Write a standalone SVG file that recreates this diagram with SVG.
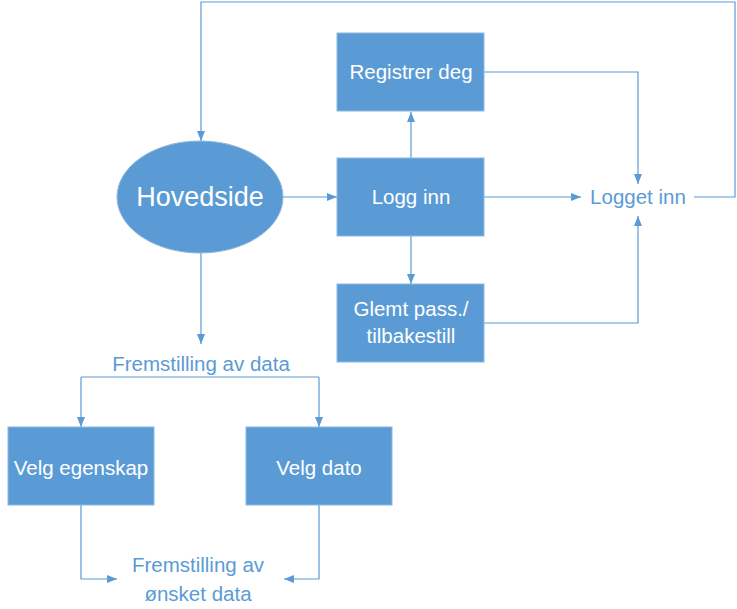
<svg xmlns="http://www.w3.org/2000/svg" width="737" height="609" viewBox="0 0 737 609">
<style>
.box{fill:#5B9BD5;stroke:#8DB8E2;stroke-width:1}
.bt{fill:#FFFFFF;font-family:"Liberation Sans",Arial,sans-serif;font-size:20.5px;text-anchor:middle}
.lbl{fill:#5B9BD5;font-family:"Liberation Sans",Arial,sans-serif;font-size:20.5px;text-anchor:middle}
.c{fill:none;stroke:#5B9BD5;stroke-width:1.2;marker-end:url(#ah)}
.cn{fill:none;stroke:#5B9BD5;stroke-width:1.2}
</style>
<defs>
<marker id="ah" markerUnits="userSpaceOnUse" markerWidth="10" markerHeight="10" viewBox="0 0 10 10" refX="10" refY="5" orient="auto">
<path d="M0,1 L10,5 L0,9 z" fill="#5B9BD5"/>
</marker>
</defs>
<rect width="737" height="609" fill="#FFFFFF"/>
<g id="connectors">
<path class="c" d="M283,197 H337"/>
<path class="c" d="M411,158 V112"/>
<path class="c" d="M411,236 V284"/>
<path class="c" d="M484,197 H581"/>
<path class="c" d="M484,72 H638 V184"/>
<path class="c" d="M484,323 H638 V216"/>
<path class="c" d="M694,197 H735 V2 H201 V141"/>
<path class="c" d="M201,253 V344"/>
<path class="cn" d="M200,377 H81"/>
<path class="c" d="M81,377 V427"/>
<path class="cn" d="M200,377 H319"/>
<path class="c" d="M319,377 V427"/>
<path class="c" d="M81,505 V579 H117"/>
<path class="c" d="M319,505 V579 H284"/>
</g>
<g id="hovedside">
<ellipse cx="200" cy="197" rx="83" ry="56" class="box"/>
<text x="200" y="206" class="bt" style="font-size:27px">Hovedside</text>
</g>
<g id="registrer">
<rect x="337" y="33" width="147" height="78" class="box"/>
<text x="411" y="79" class="bt">Registrer deg</text>
</g>
<g id="logginn">
<rect x="337" y="158" width="147" height="78" class="box"/>
<text x="411" y="204" class="bt">Logg inn</text>
</g>
<g id="glemt">
<rect x="337" y="284" width="147" height="78" class="box"/>
<text x="411" y="316" class="bt">Glemt pass./</text>
<text x="411" y="343" class="bt">tilbakestill</text>
</g>
<g id="loggetinn">
<text x="638" y="204" class="lbl">Logget inn</text>
</g>
<g id="fremstilling">
<text x="201" y="371" class="lbl">Fremstilling av data</text>
</g>
<g id="velgegenskap">
<rect x="8" y="427" width="146" height="78" class="box"/>
<text x="81" y="475" class="bt">Velg egenskap</text>
</g>
<g id="velgdato">
<rect x="246" y="427" width="146" height="78" class="box"/>
<text x="319" y="475" class="bt">Velg dato</text>
</g>
<g id="onsket">
<text x="198" y="572" class="lbl">Fremstilling av</text>
<text x="198" y="601" class="lbl">ønsket data</text>
</g>
</svg>
